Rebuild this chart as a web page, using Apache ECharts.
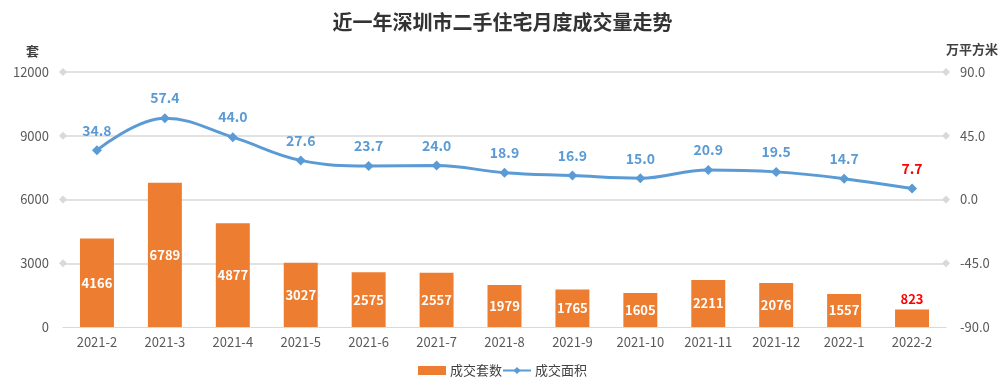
<!DOCTYPE html>
<html><head><meta charset="utf-8">
<script src="https://cdn.jsdelivr.net/npm/echarts@6/dist/echarts.min.js"></script>
<style>html,body{margin:0;padding:0;background:#fff}#c{width:1005px;height:385px}</style>
</head><body><div id="c"></div>
<script>
const categories = ['2021-2','2021-3','2021-4','2021-5','2021-6','2021-7','2021-8','2021-9','2021-10','2021-11','2021-12','2022-1','2022-2'];
const units = [4166,6789,4877,3027,2575,2557,1979,1765,1605,2211,2076,1557,823];
const area = [34.8,57.4,44.0,27.6,23.7,24.0,18.9,16.9,15.0,20.9,19.5,14.7,7.7];
const leftTicks = [3000,6000,9000,12000];

const font = '"Noto Sans CJK SC", "Microsoft YaHei", sans-serif';
const chart = echarts.init(document.getElementById('c'));
const last = units.length - 1;
chart.setOption({
  animation: false,
  textStyle: {fontFamily: font},
  title: {text: '近一年深圳市二手住宅月度成交量走势', left: 'center', top: 7,
    textStyle: {fontSize: 20, fontWeight: 'bold', color: '#333', fontFamily: font}},
  legend: {bottom: 3, left: 'center', itemGap: 0, itemWidth: 28, itemHeight: 9,
    textStyle: {fontSize: 13, color: '#404040', fontFamily: font, padding: [0, 0, 0, -1]},
    data: [{name: '成交套数', icon: 'rect'}, {name: '成交面积'}]},
  grid: {left: 63, right: 59, top: 72, bottom: 58},
  xAxis: {type: 'category', data: categories,
    axisLine: {lineStyle: {color: '#d9d9d9'}}, axisTick: {show: false},
    axisLabel: {color: '#595959', fontSize: 13, margin: 9, fontFamily: font}},
  yAxis: [
    {type: 'value', min: 0, max: 12000, interval: 3000, name: '套',
      nameLocation: 'end', nameGap: 14, nameTextStyle: {color: '#404040', fontSize: 13, fontWeight: 'bold', align: 'right', padding: [0, 24, 0, 0]},
      axisLabel: {color: '#595959', fontSize: 13, margin: 14, fontFamily: font, formatter: v => String(v)},
      splitLine: {show: false}, axisLine: {show: false}, axisTick: {show: false}},
    {type: 'value', min: -90, max: 90, interval: 45, name: '万平方米',
      nameLocation: 'end', nameGap: 16, nameTextStyle: {color: '#404040', fontSize: 13, fontWeight: 'bold', align: 'left', padding: [0, 0, 0, 0]},
      axisLabel: {color: '#595959', fontSize: 13, margin: 14, fontFamily: font, formatter: v => v.toFixed(1)},
      splitLine: {show: false}, axisLine: {show: false}, axisTick: {show: false}}
  ],
  series: [
    {name: 'grid', type: 'line', yAxisIndex: 0, data: [], z: 0, silent: true,
      markLine: {silent: true, symbol: ['diamond', 'diamond'], symbolSize: 8, z: 0,
        lineStyle: {color: '#d9d9d9', width: 1.5, type: 'solid'}, label: {show: false},
        itemStyle: {color: '#d9d9d9'},
        data: leftTicks.map(v => ({yAxis: v}))}},
    {name: '成交套数', type: 'bar', yAxisIndex: 0, barWidth: '50%', z: 2,
      itemStyle: {color: '#ed7d31'},
      data: units.map((v, i) => i === last ? {value: v, label: {position: 'top', color: '#ff0000', distance: 4}} : v),
      label: {show: true, position: 'inside', color: '#fff', fontWeight: 'bold', fontSize: 13, fontFamily: font}},
    {name: '成交面积', type: 'line', yAxisIndex: 1, smooth: 0.4, z: 3,
      symbol: 'diamond', symbolSize: 10,
      lineStyle: {color: '#5b9bd5', width: 3}, itemStyle: {color: '#5b9bd5'},
      data: area.map((v, i) => i === last ? {value: v, label: {color: '#ff0000'}} : v),
      label: {show: true, position: 'top', distance: 8, color: '#5b9bd5', fontWeight: 'bold', fontSize: 14, fontFamily: font,
        formatter: p => p.value.toFixed(1)}}
  ]
});
</script></body></html>
